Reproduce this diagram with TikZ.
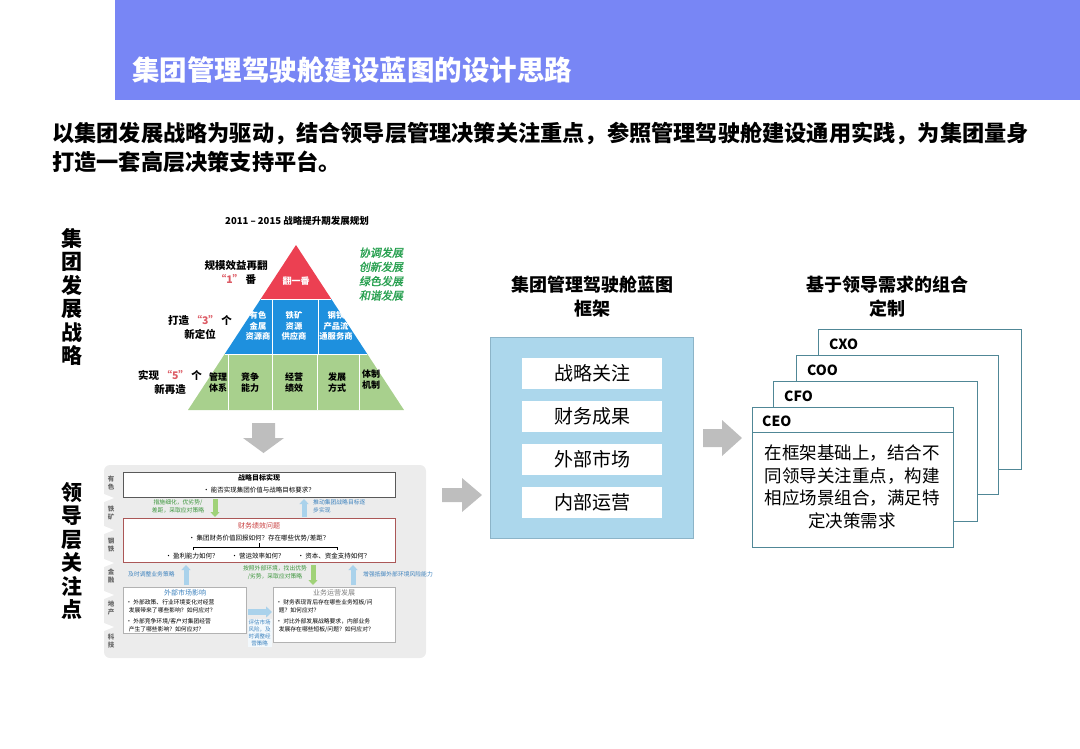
\documentclass[tikz,border=0pt]{standalone}
\usepackage{fontspec}
\setmainfont{Noto Sans CJK SC}
\newfontfamily\slantcjk[FakeSlant=0.2,FakeBold=1.5]{Noto Sans CJK SC}
\usetikzlibrary{arrows.meta}
\definecolor{hdr}{RGB}{120,134,245}
\definecolor{pyred}{RGB}{236,64,82}
\definecolor{pyblue}{RGB}{30,144,222}
\definecolor{pygreen}{RGB}{168,208,141}
\definecolor{grtxt}{RGB}{40,160,80}
\definecolor{qred}{RGB}{220,90,100}
\definecolor{boxblue}{RGB}{172,215,236}
\definecolor{boxblueb}{RGB}{140,180,200}
\definecolor{cardb}{RGB}{80,135,150}
\definecolor{garrow}{RGB}{190,190,190}
\definecolor{panel}{RGB}{236,236,236}
\definecolor{smblue}{RGB}{60,130,190}
\definecolor{smgreen}{RGB}{60,150,60}
\definecolor{arrblue}{RGB}{170,210,235}
\definecolor{arrgreen}{RGB}{160,210,120}
\definecolor{midred}{RGB}{200,60,60}
\tikzset{
  vlabel/.style={font=\fontsize{21}{23.5}\selectfont\bfseries, align=center, inner sep=0},
  secttitle/.style={font=\fontsize{18}{24}\selectfont\bfseries, align=center, inner sep=0},
  pytxt/.style={font=\fontsize{9}{11}\selectfont\bfseries, align=center, inner sep=0},
  pytxtb/.style={font=\fontsize{8.3}{10.5}\selectfont\bfseries, align=center, inner sep=0, text=white},
  leftlab/.style={font=\fontsize{10.5}{14}\selectfont\bfseries, align=center, inner sep=0},
  itemline/.style={fill=white, draw=none, minimum width=140pt, minimum height=31pt, inner sep=0, font=\fontsize{19}{22}\selectfont},
  card/.style={draw=cardb, line width=1pt, fill=white},
  cardlab/.style={font=\fontsize{14}{16}\selectfont\bfseries, anchor=west, inner sep=0},
  tiny/.style={font=\fontsize{6.5}{8.5}\selectfont, inner sep=0},
  collab/.style={font=\fontsize{6.5}{8}\selectfont\bfseries, align=center, text=gray!80!black, inner sep=0},
  smbox/.style={draw=gray!60, fill=white, line width=0.6pt},
  uparr/.style={-{Triangle[width=9pt,length=5pt]}, line width=5pt},
}
\begin{document}
\begin{tikzpicture}[x=1pt,y=-1pt]
\useasboundingbox (0,0) rectangle (1080,748);
% header
\fill[hdr] (115,0) rectangle (1080,100);
\node[font=\fontsize{27.5}{30}\selectfont\bfseries, text=white, anchor=west, inner sep=0] (title) at (132,70) {集团管理驾驶舱建设蓝图的设计思路};
\node[font=\fontsize{22.2}{28}\selectfont\bfseries, anchor=west, inner sep=0] (sub1) at (52,134) {以集团发展战略为驱动，结合领导层管理决策关注重点，参照管理驾驶舱建设通用实践，为集团量身};
\node[font=\fontsize{22.2}{28}\selectfont\bfseries, anchor=west, inner sep=0] (sub2) at (52,162) {打造一套高层决策支持平台。};

% vertical labels
\node[vlabel] (vl1) at (72,297) {集\\团\\发\\展\\战\\略};
\node[vlabel] (vl2) at (72,551) {领\\导\\层\\关\\注\\点};

% pyramid
\node[font=\fontsize{9.5}{11}\selectfont\bfseries, inner sep=0] (pytitle) at (297,221) {2011 – 2015 战略提升期发展规划};
\fill[pyred] (296,245) -- (331.3,299) -- (260.7,299) -- cycle;
\fill[pyblue] (260.7,299) -- (331.3,299) -- (367.3,354) -- (224.7,354) -- cycle;
\fill[pygreen] (224.7,354) -- (367.3,354) -- (404,410) -- (188,410) -- cycle;
\draw[white, line width=1pt] (260.7,299) -- (331.3,299);
\draw[white, line width=1pt] (224.7,354) -- (367.3,354);
\draw[white, line width=1pt] (272,299) -- (272,354) (318,299) -- (318,354);
\draw[white, line width=1pt] (228,354) -- (228,410) (272,354) -- (272,410) (317,354) -- (317,410) (359,354) -- (359,410);
\node[pytxt, text=white] (p1) at (296,281) {翻一番};
\node[pytxtb] (p2a) at (258,326) {有色\\金属\\资源商};
\node[pytxtb] (p2b) at (294,326) {铁矿\\资源\\供应商};
\node[pytxtb] (p2c) at (336,326) {钢铁\\产品流\\通服务商};
\node[pytxt] (p3a) at (218,383) {管理\\体系};
\node[pytxt] (p3b) at (250,383) {竞争\\能力};
\node[pytxt] (p3c) at (294,383) {经营\\绩效};
\node[pytxt] (p3d) at (337,383) {发展\\方式};
\node[pytxt] (p3e) at (371,380) {体制\\机制};
\node[leftlab] (l1) at (236,272) {规模效益再翻\\{\color{qred}“1”}\ 番};
\node[leftlab] (l2) at (200,327) {打造\ {\color{qred}“3”}\ 个\\新定位};
\node[leftlab] (l3) at (170,382) {实现\ {\color{qred}“5”}\ 个\\新再造};
\node[font=\fontsize{11}{14.3}\selectfont\slantcjk, text=grtxt, align=center, inner sep=0] (gr) at (381,274) {协调发展\\创新发展\\绿色发展\\和谐发展};

% gray down arrow
\fill[garrow] (252,423) -- (275,423) -- (275,438) -- (284,438) -- (263.5,453) -- (243,438) -- (252,438) -- cycle;

% lower panel
\fill[panel, rounded corners=6pt] (104,465) rectangle (426,658);
\foreach \yy in {498,530,563,595,627} {\fill[white] (104,\yy-4) -- (114,\yy) -- (104,\yy+4) -- cycle;}
\node[collab] (c1) at (111,483) {有\\色};
\node[collab] (c2) at (111,513) {铁\\矿};
\node[collab] (c3) at (111,545) {钢\\铁};
\node[collab] (c4) at (111,576) {金\\融};
\node[collab] (c5) at (111,608) {地\\产};
\node[collab] (c6) at (111,641) {科\\技};
% top box
\draw[smbox, draw=gray!70!black] (123,472) rectangle (395,497);
\node[tiny, font=\fontsize{7}{9}\selectfont\bfseries] (b1t) at (259,478) {战略目标实现};
\node[tiny] (b1a) at (259,490) {•\ 能否实现集团价值与战略目标要求？};
% arrows row 1
\node[tiny, text=smgreen, align=center, font=\fontsize{5.8}{8}\selectfont] (g1) at (178,506) {措施细化，优劣势/\\差距，采取应对策略};
\draw[uparr, arrgreen] (215,499) -- (215,517);
\draw[uparr, arrblue] (304,517) -- (304,499);
\node[tiny, text=smblue, align=left, anchor=west, font=\fontsize{5.8}{8}\selectfont] (bl1) at (313,506) {推动集团战略目标逐\\步实现};
% middle box
\draw[smbox, draw=midred!60!gray] (123,518) rectangle (395,562);
\node[tiny, text=midred, font=\fontsize{7}{9}\selectfont] (b2t) at (259,526) {财务绩效问题};
\node[tiny] (b2a) at (259,538) {•\ 集团财务价值回报如何？存在哪些优势/差距？};
\draw[line width=0.5pt] (259,543) -- (259,547) (193,550) -- (193,547) -- (337,547) -- (337,550);
\node[tiny] (b2b) at (192,556) {•\ 盈利能力如何？};
\node[tiny] (b2c) at (258,556) {•\ 营运效率如何？};
\node[tiny] (b2d) at (334,556) {•\ 资本、资金支持如何？};
% arrows row 2
\node[tiny, text=smblue, anchor=west, font=\fontsize{5.8}{8}\selectfont] (bl2) at (128,574) {及时调整业务策略};
\draw[uparr, arrblue] (186,585) -- (186,565);
\node[tiny, text=smgreen, align=center, font=\fontsize{5.8}{8}\selectfont] (g2) at (275,573) {按照外部环境，找出优势\\/劣势，采取应对策略};
\draw[uparr, arrgreen] (313,565) -- (313,585);
\draw[uparr, arrblue] (353,585) -- (353,565);
\node[tiny, text=smblue, anchor=west, font=\fontsize{5.8}{8}\selectfont] (bl3) at (363,574) {增强抵御外部环境风险能力};
% bottom boxes
\draw[smbox] (123,587) rectangle (246,633);
\node[tiny, text=smblue, font=\fontsize{7}{9}\selectfont] (b3t) at (185,593) {外部市场影响};
\node[tiny, anchor=north west, align=left, font=\fontsize{5.8}{8.5}\selectfont] (b3a) at (126,599) {•\ 外部政策、行业环境变化对经营\\\ \ 发展带来了哪些影响？如何应对？};
\node[tiny, anchor=north west, align=left, font=\fontsize{5.8}{8.5}\selectfont] (b3b) at (126,618) {•\ 外部竞争环境/客户对集团经营\\\ \ 产生了哪些影响？如何应对？};
\draw[smbox] (273,587) rectangle (395,642);
\node[tiny, text=gray, font=\fontsize{7}{9}\selectfont] (b4t) at (334,593) {业务运营发展};
\node[tiny, anchor=north west, align=left, font=\fontsize{5.8}{8.5}\selectfont] (b4a) at (276,599) {•\ 财务表现背后存在哪些业务短板/问\\\ \ 题？如何应对？};
\node[tiny, anchor=north west, align=left, font=\fontsize{5.8}{8.5}\selectfont] (b4b) at (276,618) {•\ 对比外部发展战略要求，内部业务\\\ \ 发展存在哪些短板/问题？如何应对？};
\coordinate (ra1) at (248,612);
\coordinate (ra2) at (272,612);
\draw[arrblue, -{Triangle[width=11pt,length=6pt]}, line width=6pt] (ra1) -- (ra2);
\node[tiny, text=smblue, align=center, font=\fontsize{5.5}{7}\selectfont, fill=white!85!arrblue, inner sep=1pt] (mid) at (259.5,633) {评估市场\\风险，及\\时调整经\\营策略};

% gray right arrows
\fill[garrow] (442,488) -- (462,488) -- (462,478) -- (482,495) -- (462,512) -- (462,502) -- (442,502) -- cycle;
\fill[garrow] (703,429) -- (722,429) -- (722,420) -- (742,438) -- (722,456) -- (722,447) -- (703,447) -- cycle;

% middle section
\node[secttitle] (mtitle) at (592,297) {集团管理驾驶舱蓝图\\框架};
\draw[draw=boxblueb, fill=boxblue, line width=1pt] (490,337) rectangle (693,538);
\node[itemline] (i1) at (592,373) {战略关注};
\node[itemline] (i2) at (592,416) {财务成果};
\node[itemline] (i3) at (592,459) {外部市场};
\node[itemline] (i4) at (592,502) {内部运营};

% right section
\node[secttitle] (rtitle) at (887,297) {基于领导需求的组合\\定制};
\draw[card] (818,329) rectangle (1021,469);
\node[cardlab] (cxo) at (829,344) {CXO};
\draw[card] (796,355) rectangle (998,494);
\node[cardlab] (coo) at (807,370) {COO};
\draw[card] (773,381) rectangle (977,521);
\node[cardlab] (cfo) at (784,396) {CFO};
\draw[card] (752,407) rectangle (953,547);
\node[cardlab] (ceo) at (762,421) {CEO};
\draw[cardb, line width=1pt] (752,432) -- (953,432);
\node[font=\fontsize{17.5}{22.5}\selectfont, align=center, inner sep=0] (ceotxt) at (852,487) {在框架基础上，结合不\\同领导关注重点，构建\\相应场景组合，满足特\\定决策需求};
\end{tikzpicture}
\end{document}
